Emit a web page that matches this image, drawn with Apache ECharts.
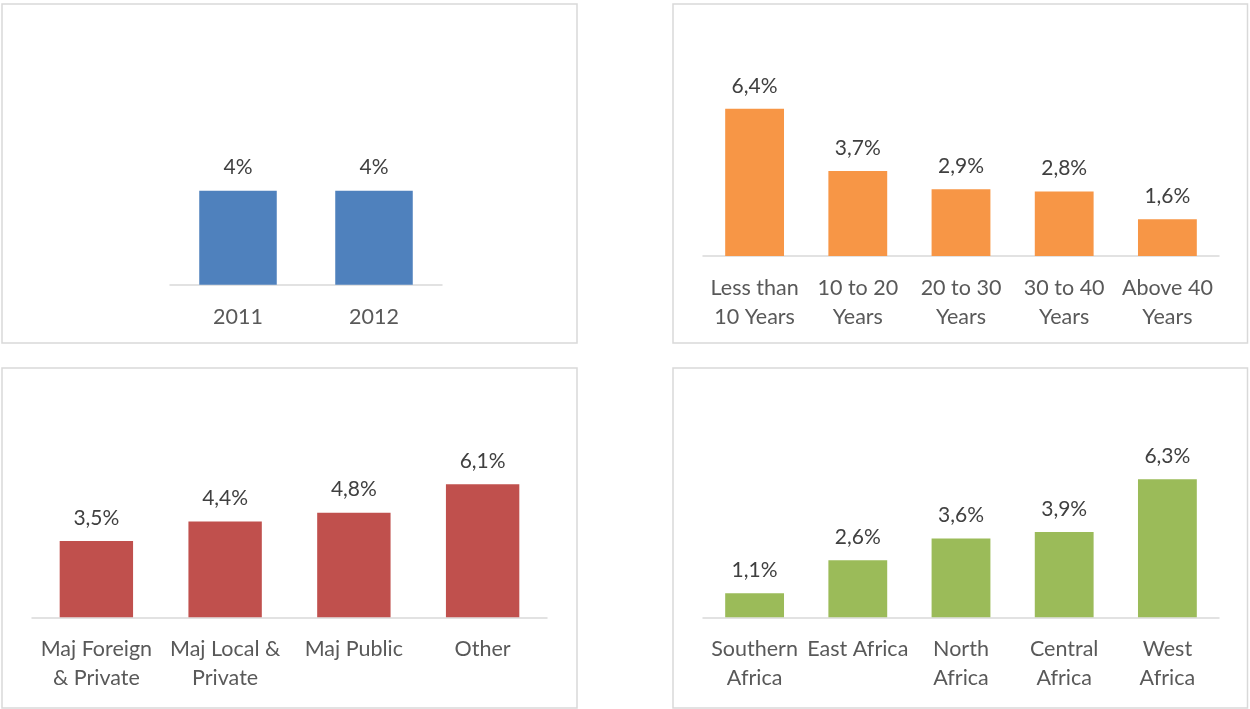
<!DOCTYPE html>
<html>
<head>
<meta charset="utf-8">
<title>Bar panels</title>
<script src="https://cdn.jsdelivr.net/npm/echarts@6/dist/echarts.min.js"></script>
<style>
  html, body { margin: 0; padding: 0; background: #ffffff; }
  #chart { width: 1250px; height: 709px; }
</style>
</head>
<body>
<div id="chart"></div>
<script>
// Panel 1: by year
const yearCategories = ['2011', '2012'];
const yearValues = [4.0, 4.0];

// Panel 2: by age
const ageCategories = ['Less than\n10 Years', '10 to 20\nYears', '20 to 30\nYears', '30 to 40\nYears', 'Above 40\nYears'];
const ageValues = [6.4, 3.7, 2.9, 2.8, 1.6];

// Panel 3: by ownership
const ownershipCategories = ['Maj Foreign\n& Private', 'Maj Local &\nPrivate', 'Maj Public', 'Other'];
const ownershipValues = [3.5, 4.4, 4.8, 6.1];

// Panel 4: by region
const regionCategories = ['Southern\nAfrica', 'East Africa', 'North\nAfrica', 'Central\nAfrica', 'West\nAfrica'];
const regionValues = [1.1, 2.6, 3.6, 3.9, 6.3];

const FONT = 'Lato, "Open Sans", sans-serif';
const CAT_TEXT = '#595959';
const VALUE_TEXT = '#404040';
const AXIS_LINE = '#d9d9d9';

function pct(decimals) {
  return function (p) {
    return p.value.toFixed(decimals).replace('.', ',') + '%';
  };
}

const panels = [
  { cats: yearCategories, vals: yearValues, color: '#4f81bd', dec: 0,
    grid: { left: 170, top: 167.2, width: 272, height: 117.5 }, max: 5 },
  { cats: ageCategories, vals: ageValues, color: '#f79646', dec: 1,
    grid: { left: 703, top: 95, width: 516, height: 161 }, max: 7 },
  { cats: ownershipCategories, vals: ownershipValues, color: '#c0504d', dec: 1,
    grid: { left: 32, top: 464.7, width: 515, height: 152.6 }, max: 7 },
  { cats: regionCategories, vals: regionValues, color: '#9bbb59', dec: 1,
    grid: { left: 703, top: 464, width: 516, height: 153.3 }, max: 7 }
];

const grids = [], xAxes = [], yAxes = [], series = [];
panels.forEach(function (p, i) {
  grids.push(Object.assign({ containLabel: false }, p.grid));
  xAxes.push({
    type: 'category',
    gridIndex: i,
    data: p.cats,
    axisLine: { show: true, lineStyle: { color: AXIS_LINE, width: 1.5 } },
    axisTick: { show: false },
    splitLine: { show: false },
    axisLabel: {
      interval: 0,
      hideOverlap: false,
      margin: 17.5,
      color: CAT_TEXT,
      fontFamily: FONT,
      fontSize: 21.5,
      lineHeight: 29
    }
  });
  yAxes.push({
    type: 'value',
    gridIndex: i,
    min: 0,
    max: p.max,
    show: false,
    splitLine: { show: false }
  });
  series.push({
    type: 'bar',
    xAxisIndex: i,
    yAxisIndex: i,
    data: p.vals,
    barCategoryGap: '43%',
    itemStyle: { color: p.color },
    label: {
      show: true,
      position: 'top',
      distance: 12.5,
      color: VALUE_TEXT,
      fontFamily: FONT,
      fontSize: 21,
      lineHeight: 21,
      formatter: pct(p.dec)
    },
    silent: true,
    animation: false
  });
});

// Panel frames
const frameStyle = { fill: 'none', stroke: '#d9d9d9', lineWidth: 1.5 };
const frames = [
  { x: 2, y: 4, width: 575, height: 339 },
  { x: 673, y: 4, width: 574.5, height: 339 },
  { x: 2, y: 368, width: 575, height: 340 },
  { x: 673, y: 368, width: 574.5, height: 340 }
].map(function (s) {
  return { type: 'rect', shape: s, style: frameStyle, silent: true, z: -1 };
});

const chart = echarts.init(document.getElementById('chart'), null, { renderer: 'canvas' });
chart.setOption({
  backgroundColor: '#ffffff',
  animation: false,
  grid: grids,
  xAxis: xAxes,
  yAxis: yAxes,
  series: series,
  graphic: frames
});
</script>
</body>
</html>
